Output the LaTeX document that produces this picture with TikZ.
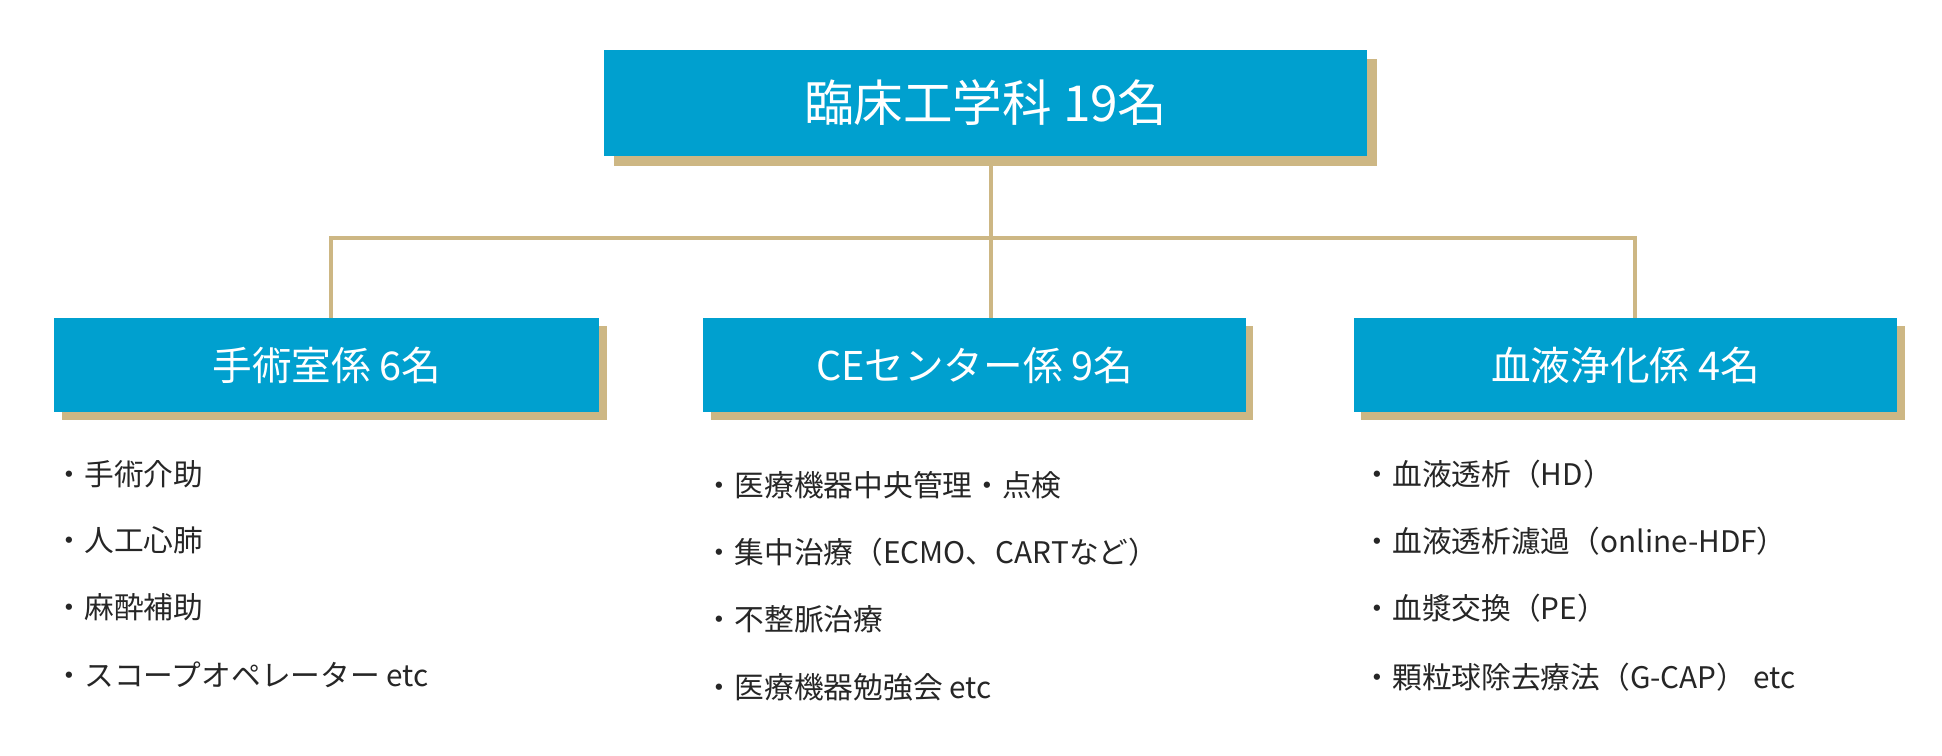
\documentclass[tikz,border=0pt]{standalone}
\usepackage{fontspec}
\setmainfont{Noto Sans CJK JP}
\begin{document}
\definecolor{boxblue}{HTML}{00A0CF}
\definecolor{tan}{HTML}{CDB784}
\begin{tikzpicture}[x=1pt,y=-1pt,
  box/.style={fill=boxblue,inner sep=0pt,text=white},
  line/.style={draw=tan,line width=3pt},
  item/.style={anchor=west,inner sep=0pt,font=\fontsize{24}{28}\selectfont,text=black!85}]
\useasboundingbox (0,0) rectangle (1568,610);
% top box
\fill[tan] (496,48) rectangle (1112,134);
\node[box,minimum width=616pt,minimum height=86pt,font=\fontsize{40}{44}\selectfont] (top) at (796,83) {臨床工学科 19名};
% children
\foreach \xa/\xb/\nm/\t in {44/484/l/手術室係 6名, 568/1006/m/CEセンター係 9名, 1093/1532/r/血液浄化係 4名}{
  \fill[tan] (\xa+6,263) rectangle (\xb+6,339);
  \node[box,minimum width={\xb-\xa},minimum height=76pt,font=\fontsize{32}{36}\selectfont] (\nm) at ({(\xa+\xb)/2},295) {\t};
}
\coordinate (j) at (800,192);
\draw[line] (800,126) -- (j);
\draw[line] (267,257) -- (267,192) -- (1320,192) -- (1320,257);
\draw[line] (j) -- (800,257);
% lists
\node[item] (l1) at (44,383) {・手術介助};
\node[item] (l2) at (44,436) {・人工心肺};
\node[item] (l3) at (44,490) {・麻酔補助};
\node[item] (l4) at (44,545) {・スコープオペレーター etc};
\node[item] (m1) at (569,392) {・医療機器中央管理・点検};
\node[item] (m2) at (569,446) {・集中治療（ECMO、CARTなど）};
\node[item] (m3) at (569,500) {・不整脈治療};
\node[item] (m4) at (569,555) {・医療機器勉強会 etc};
\node[item] (r1) at (1100,383) {・血液透析（HD）};
\node[item] (r2) at (1100,437) {・血液透析濾過（online-HDF）};
\node[item] (r3) at (1100,491) {・血漿交換（PE）};
\node[item] (r4) at (1100,547) {・顆粒球除去療法（G-CAP） etc};
\end{tikzpicture}
\end{document}
